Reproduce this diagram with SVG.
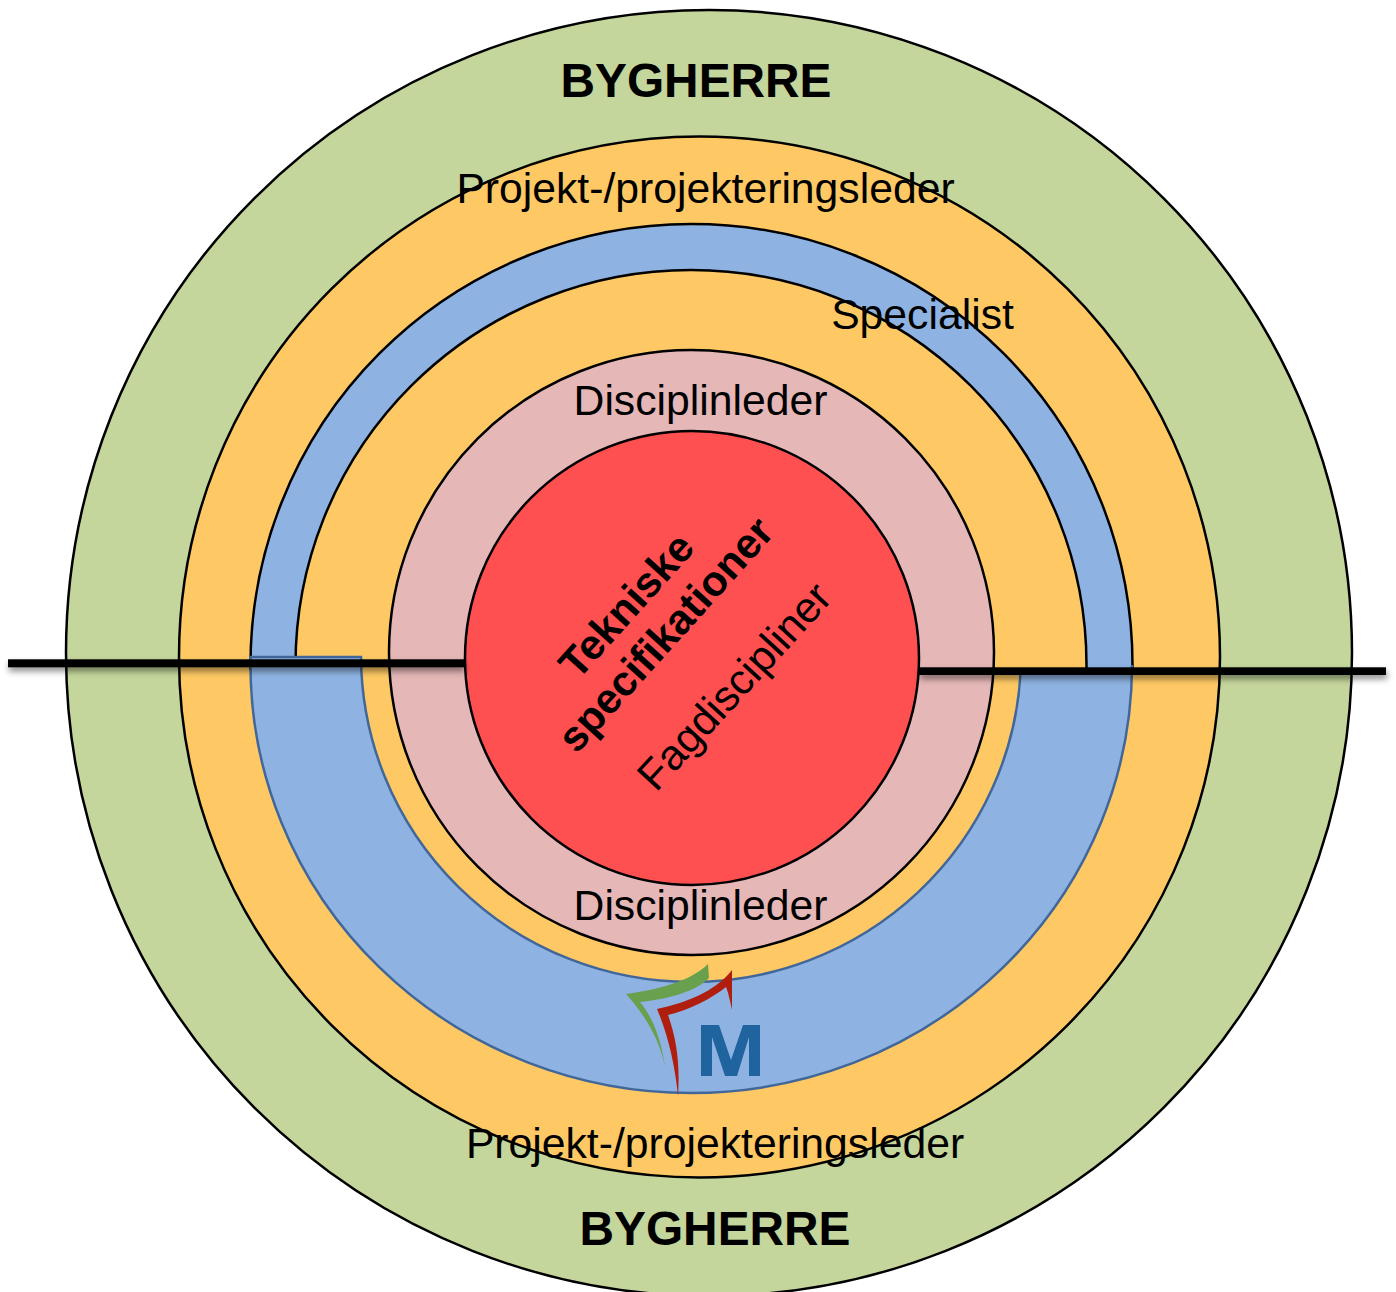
<svg xmlns="http://www.w3.org/2000/svg" width="1396" height="1292" viewBox="0 0 1396 1292">
<style>
.r{stroke:#000;stroke-width:2.5}
.b{stroke:#41679a;stroke-width:2.5;fill:#8eb3e2}
.g{fill:#c4d69b}.o{fill:#fec964}.bl{fill:#8eb3e2}.p{fill:#e5b7b7}.c{fill:#fe5050}
text{font-family:"Liberation Sans",Arial,sans-serif;fill:#000}
.t{font-size:42.7px}.h{font-size:47.8px;font-weight:bold}
.bar{fill:#000;filter:url(#s)}
</style>
<defs><filter id="s" x="-5%" y="-200%" width="110%" height="500%"><feDropShadow dx="1" dy="4" stdDeviation="3" flood-color="#000" flood-opacity="0.45"/></filter></defs>
<g id="ring-bygherre"><circle class="r g" cx="709" cy="653" r="643"/></g>
<g id="ring-projektleder"><circle class="r o" cx="699.5" cy="657" r="520.5"/></g>
<g id="ring-specialist-upper"><path class="r bl" d="M250.500 670V665A441 441 0 0 1 1132.500 665V670"/></g>
<g id="ring-inner-upper"><path class="r o" d="M295.500 670V665A395.500 395 0 0 1 1086.500 665V670"/></g>
<g id="ring-specialist-lower"><path class="b" d="M250.500 657H361A330 327 0 0 0 691 982A330 327 0 0 0 1020.600 672H1132V665A441 428 0 0 1 691 1093A441 428 0 0 1 250.500 665Z"/></g>
<g id="ring-disciplinleder"><circle class="r p" cx="691.500" cy="652.500" r="302.500"/></g>
<g id="core"><circle class="r c" cx="692" cy="658" r="227"/></g>
<g id="connectors">
<rect class="bar" x="8" y="659.300" width="456" height="8"/>
<rect class="bar" x="919" y="667.300" width="467" height="7.700"/>
</g>
<g id="logo">
<path fill="#68a04e" d="M626 994C655 990 690 982 708 964L709 978C695 992 668 999 640 1002C655 1020 662 1045 665 1067C660 1040 645 1015 626 994Z"/>
<path fill="#b01e0e" d="M657 1009C685 1003 715 992 732 970V1010C730 1000 728 992 726 987C712 998 690 1010 668 1015C677 1040 680 1065 678 1096C675 1065 668 1035 657 1009Z"/>
<path fill="#20649f" d="M701 1076V1025H719L731 1060L743 1025H760V1076H749V1037L737 1076H725L712 1037V1076Z"/>
</g>
<g id="labels">
<text class="h" x="696" y="97" text-anchor="middle">BYGHERRE</text>
<text class="t" x="705.500" y="203" text-anchor="middle">Projekt-/projekteringsleder</text>
<text class="t" x="922.500" y="329" text-anchor="middle">Specialist</text>
<text class="t" x="700.500" y="414.500" text-anchor="middle">Disciplinleder</text>
<text class="t" x="700.500" y="920" text-anchor="middle">Disciplinleder</text>
<text class="t" x="715" y="1158" text-anchor="middle">Projekt-/projekteringsleder</text>
<text class="h" x="715" y="1245" text-anchor="middle">BYGHERRE</text>
<g text-anchor="middle" font-weight="bold" font-size="42.200"><text transform="translate(637 615) rotate(-48)">Tekniske</text><text transform="translate(676 644) rotate(-48)">specifikationer</text></g>
<text transform="translate(745 696) rotate(-47.500)" text-anchor="middle" font-size="42.700">Fagdiscipliner</text>
</g>
</svg>
